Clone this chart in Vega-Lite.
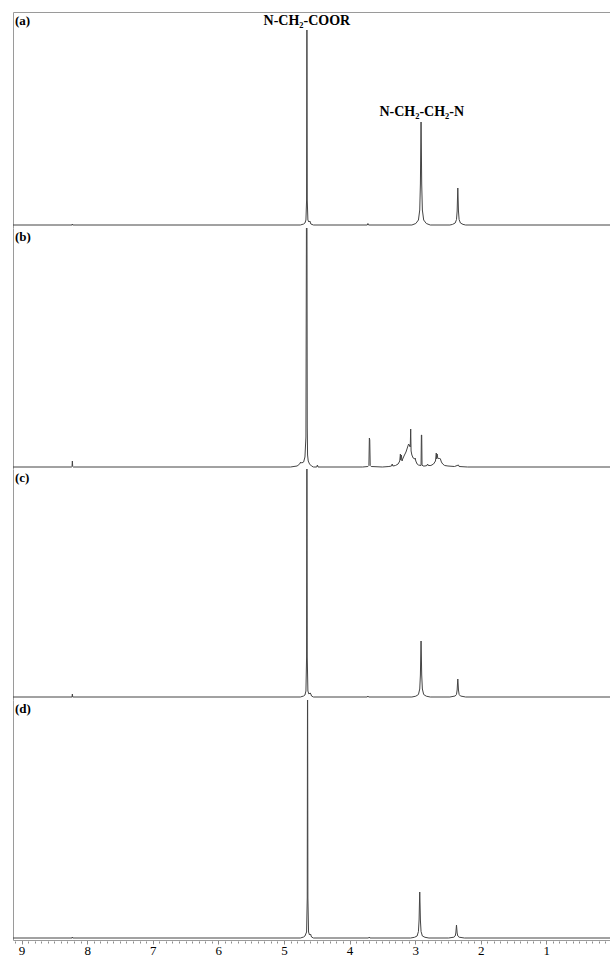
{
  "$schema": "https://vega.github.io/schema/vega-lite/v6.json",
  "padding": {"left": 13, "top": 12, "right": 0, "bottom": 0},
  "spacing": 0,
  "bounds": "flush",
  "config": {
    "view": {"stroke": null},
    "axis": {"domainColor": "#9a9a9a", "tickColor": "#8a8a8a", "labelFont": "Liberation Serif", "labelColor": "#000", "grid": false, "title": null},
    "text": {"font": "Liberation Serif"}
  },
  "vconcat": [
    {
      "width": 597, "height": 216,
      "layer": [
        {
          "data": {"values": [
            {"x": 9.13, "y": 0}, {"x": 8.23, "y": 0}, {"x": 8.225, "y": 1}, {"x": 8.22, "y": 0},
            {"x": 4.75, "y": 0}, {"x": 4.7, "y": 1}, {"x": 4.68, "y": 2}, {"x": 4.665, "y": 5}, {"x": 4.655, "y": 25},
            {"x": 4.65, "y": 195}, {"x": 4.645, "y": 25}, {"x": 4.635, "y": 5}, {"x": 4.62, "y": 3}, {"x": 4.605, "y": 4},
            {"x": 4.59, "y": 1}, {"x": 4.55, "y": 0}, {"x": 3.73, "y": 0}, {"x": 3.72, "y": 1.5}, {"x": 3.71, "y": 0},
            {"x": 3.05, "y": 0}, {"x": 2.99, "y": 1.5}, {"x": 2.95, "y": 5}, {"x": 2.93, "y": 15}, {"x": 2.92, "y": 41},
            {"x": 2.915, "y": 74}, {"x": 2.91, "y": 103}, {"x": 2.905, "y": 74}, {"x": 2.9, "y": 41}, {"x": 2.89, "y": 15},
            {"x": 2.87, "y": 5}, {"x": 2.83, "y": 1.5}, {"x": 2.77, "y": 0},
            {"x": 2.47, "y": 0}, {"x": 2.43, "y": 0.6}, {"x": 2.39, "y": 2}, {"x": 2.37, "y": 5.4}, {"x": 2.36, "y": 14},
            {"x": 2.355, "y": 26}, {"x": 2.35, "y": 37}, {"x": 2.345, "y": 26}, {"x": 2.34, "y": 14}, {"x": 2.33, "y": 5.4},
            {"x": 2.31, "y": 2}, {"x": 2.27, "y": 0.6}, {"x": 2.23, "y": 0}, {"x": 0.03, "y": 0}
          ]},
          "mark": {"type": "line", "color": "#444", "strokeWidth": 1, "clip": true},
          "encoding": {
            "x": {"field": "x", "type": "quantitative", "scale": {"domain": [9.13, 0.03], "nice": false, "zero": false}, "axis": {"orient": "top", "labels": false, "ticks": false}},
            "y": {"field": "y", "type": "quantitative", "scale": {"domain": [-3, 213], "nice": false, "zero": false}, "axis": {"labels": false, "ticks": false}}
          }
        },
        {
          "data": {"values": [{"x": 9.1, "y": 204, "t": "(a)"}]},
          "mark": {"type": "text", "align": "left", "baseline": "middle", "fontSize": 13, "fontWeight": "bold", "color": "#000"},
          "encoding": {
            "x": {"field": "x", "type": "quantitative"},
            "y": {"field": "y", "type": "quantitative"},
            "text": {"field": "t"}
          }
        },
        {
          "data": {"values": [{"x": 4.65, "y": 200, "t": "N-CH₂-COOR"}, {"x": 2.9, "y": 109, "t": "N-CH₂-CH₂-N"}]},
          "mark": {"type": "text", "align": "center", "baseline": "alphabetic", "fontSize": 14, "fontWeight": "bold", "color": "#000"},
          "encoding": {
            "x": {"field": "x", "type": "quantitative"},
            "y": {"field": "y", "type": "quantitative"},
            "text": {"field": "t"}
          }
        }
      ]
    },
    {
      "width": 597, "height": 241,
      "layer": [
        {
          "data": {"values": [
            {"x": 9.13, "y": 0}, {"x": 8.24, "y": 0}, {"x": 8.23, "y": 0.5}, {"x": 8.225, "y": 6}, {"x": 8.22, "y": 0.5}, {"x": 8.21, "y": 0},
            {"x": 4.9, "y": 0}, {"x": 4.8, "y": 1}, {"x": 4.76, "y": 3}, {"x": 4.745, "y": 5}, {"x": 4.73, "y": 4}, {"x": 4.7, "y": 5},
            {"x": 4.68, "y": 10}, {"x": 4.665, "y": 30}, {"x": 4.655, "y": 300}, {"x": 4.65, "y": 300}, {"x": 4.645, "y": 40},
            {"x": 4.64, "y": 12}, {"x": 4.63, "y": 6}, {"x": 4.61, "y": 3}, {"x": 4.58, "y": 1}, {"x": 4.55, "y": 0},
            {"x": 4.5, "y": 0}, {"x": 4.49, "y": 2}, {"x": 4.48, "y": 0},
            {"x": 3.8, "y": 0}, {"x": 3.72, "y": 0.5}, {"x": 3.705, "y": 1.5}, {"x": 3.698, "y": 29}, {"x": 3.692, "y": 27},
            {"x": 3.685, "y": 1.5}, {"x": 3.67, "y": 0.5}, {"x": 3.5, "y": 0},
            {"x": 3.4, "y": 0.5}, {"x": 3.36, "y": 1}, {"x": 3.35, "y": 3}, {"x": 3.34, "y": 1}, {"x": 3.3, "y": 1.5},
            {"x": 3.26, "y": 3}, {"x": 3.235, "y": 6}, {"x": 3.225, "y": 13}, {"x": 3.22, "y": 7}, {"x": 3.21, "y": 12},
            {"x": 3.2, "y": 6}, {"x": 3.19, "y": 8}, {"x": 3.17, "y": 11}, {"x": 3.14, "y": 15}, {"x": 3.12, "y": 19},
            {"x": 3.1, "y": 23}, {"x": 3.09, "y": 22}, {"x": 3.075, "y": 20}, {"x": 3.068, "y": 38}, {"x": 3.062, "y": 16},
            {"x": 3.05, "y": 12}, {"x": 3.03, "y": 9}, {"x": 3.01, "y": 8}, {"x": 3.0, "y": 9}, {"x": 2.99, "y": 6},
            {"x": 2.97, "y": 3}, {"x": 2.95, "y": 2}, {"x": 2.91, "y": 1.5}, {"x": 2.905, "y": 32}, {"x": 2.9, "y": 32},
            {"x": 2.895, "y": 2}, {"x": 2.88, "y": 1}, {"x": 2.85, "y": 1}, {"x": 2.82, "y": 1.5}, {"x": 2.81, "y": 3},
            {"x": 2.8, "y": 1.5}, {"x": 2.76, "y": 1.5}, {"x": 2.72, "y": 3}, {"x": 2.69, "y": 6}, {"x": 2.678, "y": 14},
            {"x": 2.672, "y": 8}, {"x": 2.665, "y": 13}, {"x": 2.655, "y": 9}, {"x": 2.64, "y": 8}, {"x": 2.63, "y": 9},
            {"x": 2.615, "y": 8}, {"x": 2.6, "y": 5}, {"x": 2.58, "y": 3}, {"x": 2.55, "y": 1.5}, {"x": 2.5, "y": 1},
            {"x": 2.4, "y": 0.5}, {"x": 2.34, "y": 2}, {"x": 2.33, "y": 0.5}, {"x": 2.2, "y": 0}, {"x": 0.03, "y": 0}
          ]},
          "mark": {"type": "line", "color": "#444", "strokeWidth": 1, "clip": true},
          "encoding": {
            "x": {"field": "x", "type": "quantitative", "scale": {"domain": [9.13, 0.03], "nice": false, "zero": false}, "axis": null},
            "y": {"field": "y", "type": "quantitative", "scale": {"domain": [-2, 239], "nice": false, "zero": false}, "axis": {"labels": false, "ticks": false}}
          }
        },
        {
          "data": {"values": [{"x": 9.1, "y": 230, "t": "(b)"}]},
          "mark": {"type": "text", "align": "left", "baseline": "middle", "fontSize": 13, "fontWeight": "bold", "color": "#000"},
          "encoding": {
            "x": {"field": "x", "type": "quantitative"},
            "y": {"field": "y", "type": "quantitative"},
            "text": {"field": "t"}
          }
        }
      ]
    },
    {
      "width": 597, "height": 231,
      "layer": [
        {
          "data": {"values": [
            {"x": 9.13, "y": 0}, {"x": 8.23, "y": 0}, {"x": 8.225, "y": 3}, {"x": 8.22, "y": 0},
            {"x": 4.75, "y": 0}, {"x": 4.7, "y": 1}, {"x": 4.68, "y": 2}, {"x": 4.665, "y": 6}, {"x": 4.655, "y": 40},
            {"x": 4.65, "y": 300}, {"x": 4.645, "y": 40}, {"x": 4.635, "y": 6}, {"x": 4.62, "y": 3}, {"x": 4.6, "y": 4},
            {"x": 4.59, "y": 3}, {"x": 4.58, "y": 1}, {"x": 4.55, "y": 0}, {"x": 3.73, "y": 0}, {"x": 3.72, "y": 1}, {"x": 3.71, "y": 0},
            {"x": 3.05, "y": 0}, {"x": 2.99, "y": 0.8}, {"x": 2.95, "y": 2.5}, {"x": 2.93, "y": 8}, {"x": 2.92, "y": 22},
            {"x": 2.915, "y": 40}, {"x": 2.91, "y": 56}, {"x": 2.905, "y": 40}, {"x": 2.9, "y": 22}, {"x": 2.89, "y": 8},
            {"x": 2.87, "y": 2.5}, {"x": 2.83, "y": 0.8}, {"x": 2.77, "y": 0},
            {"x": 2.47, "y": 0}, {"x": 2.39, "y": 1}, {"x": 2.37, "y": 2.6}, {"x": 2.36, "y": 7}, {"x": 2.355, "y": 13},
            {"x": 2.35, "y": 18}, {"x": 2.345, "y": 13}, {"x": 2.34, "y": 7}, {"x": 2.33, "y": 2.6}, {"x": 2.31, "y": 1},
            {"x": 2.23, "y": 0}, {"x": 0.03, "y": 0}
          ]},
          "mark": {"type": "line", "color": "#444", "strokeWidth": 1, "clip": true},
          "encoding": {
            "x": {"field": "x", "type": "quantitative", "scale": {"domain": [9.13, 0.03], "nice": false, "zero": false}, "axis": null},
            "y": {"field": "y", "type": "quantitative", "scale": {"domain": [-3, 228], "nice": false, "zero": false}, "axis": {"labels": false, "ticks": false}}
          }
        },
        {
          "data": {"values": [{"x": 9.1, "y": 219, "t": "(c)"}]},
          "mark": {"type": "text", "align": "left", "baseline": "middle", "fontSize": 13, "fontWeight": "bold", "color": "#000"},
          "encoding": {
            "x": {"field": "x", "type": "quantitative"},
            "y": {"field": "y", "type": "quantitative"},
            "text": {"field": "t"}
          }
        }
      ]
    },
    {
      "width": 597, "height": 240,
      "layer": [
        {
          "data": {"values": [
            {"x": 9.13, "y": 0}, {"x": 8.23, "y": 0}, {"x": 8.225, "y": 1}, {"x": 8.22, "y": 0},
            {"x": 4.75, "y": 0}, {"x": 4.7, "y": 1}, {"x": 4.68, "y": 2}, {"x": 4.655, "y": 6}, {"x": 4.645, "y": 40},
            {"x": 4.64, "y": 300}, {"x": 4.635, "y": 40}, {"x": 4.625, "y": 6}, {"x": 4.61, "y": 3}, {"x": 4.595, "y": 4},
            {"x": 4.58, "y": 1}, {"x": 4.55, "y": 0}, {"x": 3.71, "y": 0}, {"x": 3.7, "y": 1}, {"x": 3.69, "y": 0},
            {"x": 3.07, "y": 0}, {"x": 3.01, "y": 0.7}, {"x": 2.97, "y": 2}, {"x": 2.95, "y": 6.5}, {"x": 2.94, "y": 18},
            {"x": 2.935, "y": 33}, {"x": 2.93, "y": 46}, {"x": 2.925, "y": 33}, {"x": 2.92, "y": 18}, {"x": 2.91, "y": 6.5},
            {"x": 2.89, "y": 2}, {"x": 2.85, "y": 0.7}, {"x": 2.79, "y": 0},
            {"x": 2.49, "y": 0}, {"x": 2.41, "y": 0.8}, {"x": 2.39, "y": 2}, {"x": 2.38, "y": 5}, {"x": 2.375, "y": 9},
            {"x": 2.37, "y": 13}, {"x": 2.365, "y": 9}, {"x": 2.36, "y": 5}, {"x": 2.35, "y": 2}, {"x": 2.33, "y": 0.8},
            {"x": 2.25, "y": 0}, {"x": 0.03, "y": 0}
          ]},
          "mark": {"type": "line", "color": "#444", "strokeWidth": 1, "clip": true},
          "encoding": {
            "x": {"field": "x", "type": "quantitative", "scale": {"domain": [9.13, 0.03], "nice": false, "zero": false},
                  "axis": {"orient": "bottom", "values": [1, 2, 3, 4, 5, 6, 7, 8, 9], "format": "d", "tickSize": 4, "labelFontSize": 13, "labelPadding": 0, "labelFlush": false, "labelOverlap": false}},
            "y": {"field": "y", "type": "quantitative", "scale": {"domain": [-2, 238], "nice": false, "zero": false}, "axis": {"labels": false, "ticks": false}}
          }
        },
        {
          "data": {"values": [{"x": 9.1, "y": 229, "t": "(d)"}]},
          "mark": {"type": "text", "align": "left", "baseline": "middle", "fontSize": 13, "fontWeight": "bold", "color": "#000"},
          "encoding": {
            "x": {"field": "x", "type": "quantitative"},
            "y": {"field": "y", "type": "quantitative"},
            "text": {"field": "t"}
          }
        }
      ]
    },
    {
      "width": 597, "height": 1,
      "data": {"values": [{"x": 5}]},
      "mark": {"type": "point", "opacity": 0, "size": 1},
      "encoding": {
        "x": {"field": "x", "type": "quantitative", "scale": {"domain": [9.13, 0.03], "nice": false, "zero": false},
              "axis": {"orient": "bottom", "labels": false, "domain": false, "tickSize": 2,
                       "values": [0.1,0.2,0.3,0.4,0.5,0.6,0.7,0.8,0.9,1.1,1.2,1.3,1.4,1.5,1.6,1.7,1.8,1.9,2.1,2.2,2.3,2.4,2.5,2.6,2.7,2.8,2.9,3.1,3.2,3.3,3.4,3.5,3.6,3.7,3.8,3.9,4.1,4.2,4.3,4.4,4.5,4.6,4.7,4.8,4.9,5.1,5.2,5.3,5.4,5.5,5.6,5.7,5.8,5.9,6.1,6.2,6.3,6.4,6.5,6.6,6.7,6.8,6.9,7.1,7.2,7.3,7.4,7.5,7.6,7.7,7.8,7.9,8.1,8.2,8.3,8.4,8.5,8.6,8.7,8.8,8.9,9.1]}}
      }
    }
  ]
}
